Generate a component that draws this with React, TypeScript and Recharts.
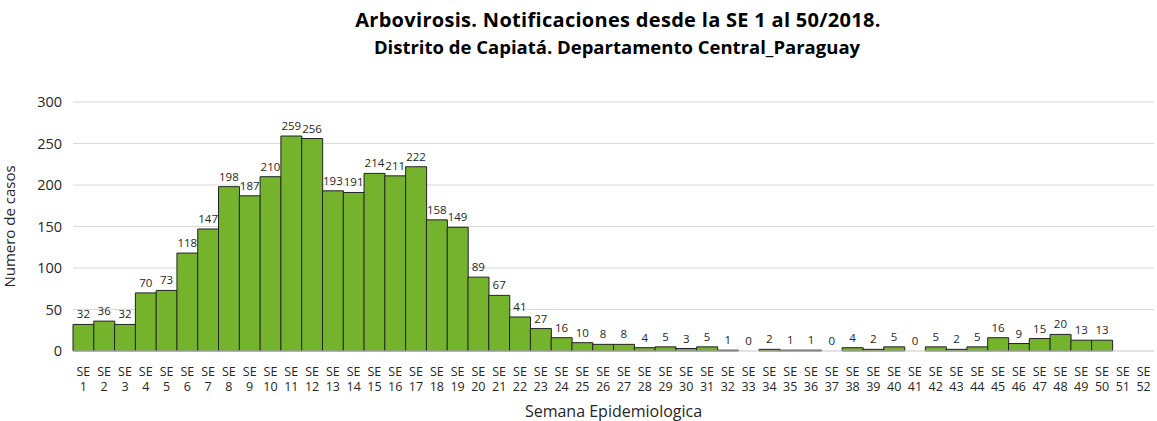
import { ComposedChart, Bar, Line, XAxis, YAxis, CartesianGrid, LabelList } from 'recharts';

const weeks = Array.from({ length: 52 }, (_, i) => i + 1);
const cases: (number | null)[] = [
  32, 36, 32, 70, 73, 118, 147, 198, 187, 210,
  259, 256, 193, 191, 214, 211, 222, 158, 149, 89,
  67, 41, 27, 16, 10, 8, 8, 4, 5, 3,
  5, 1, 0, 2, 1, 1, 0, 4, 2, 5,
  0, 5, 2, 5, 16, 9, 15, 20, 13, 13,
  null, null,
];
const yTicks = [0, 50, 100, 150, 200, 250, 300];

const data = weeks.map((w, i) => ({ week: String(w), casos: cases[i] }));

const FONT = '"Open Sans", "Noto Sans", sans-serif';
const TEXT = '#262626';

const WeekTick = (props: any) => {
  const { x, y, payload } = props;
  return (
    <text x={x} y={y} textAnchor="middle" fill={TEXT} fontSize={12.5} fontFamily={FONT}>
      <tspan x={x} dy={17}>SE</tspan>
      <tspan x={x} dy={15}>{payload.value}</tspan>
    </text>
  );
};

// labels drawn from an invisible line so zero values keep their label
const TopLabel = (props: any) => {
  const { x, y, value } = props;
  if (value === null || value === undefined || x == null || y == null) return null;
  return (
    <text x={Number(x)} y={Number(y) - 6} textAnchor="middle" fill={TEXT} fontSize={11.5} fontFamily={FONT}>
      {value}
    </text>
  );
};

export default function App() {
  return (
    <div style={{ position: 'absolute', left: 0, top: 0, width: 1157, height: 421, background: '#fff', fontFamily: FONT }}>
      <div style={{ position: 'absolute', top: 7, left: 0, width: 1236, textAlign: 'center', fontWeight: 700, fontSize: 20, lineHeight: '26px', color: '#000', letterSpacing: 0.3 }}>
        Arbovirosis. Notificaciones desde la SE 1 al 50/2018.
      </div>
      <div style={{ position: 'absolute', top: 35, left: 0, width: 1234, textAlign: 'center', fontWeight: 700, fontSize: 18.5, lineHeight: '24px', color: '#000' }}>
        Distrito de Capiatá. Departamento Central_Paraguay
      </div>
      <ComposedChart
        width={1157}
        height={421}
        data={data}
        margin={{ top: 102, right: 3, left: 8, bottom: 0 }}
        barCategoryGap={0}
      >
        <CartesianGrid vertical={false} stroke="#d9d9d9" />
        <XAxis
          dataKey="week"
          interval={0}
          height={70}
          tickLine={false}
          axisLine={{ stroke: '#d9d9d9' }}
          tick={<WeekTick />}
          label={{ value: 'Semana Epidemiologica', position: 'insideBottom', offset: 4, fontSize: 16, fill: TEXT, fontFamily: FONT }}
        />
        <YAxis
          width={65}
          domain={[0, 300]}
          ticks={yTicks}
          axisLine={false}
          tickLine={false}
          tickMargin={5}
          tick={{ fontSize: 14.5, fill: TEXT, fontFamily: FONT }}
          label={{ value: 'Numero de casos', angle: -90, position: 'insideLeft', offset: 2, fontSize: 15, fill: TEXT, fontFamily: FONT, style: { textAnchor: 'middle' } }}
        />
        <Bar dataKey="casos" fill="#76b32d" stroke="#222" strokeWidth={1} isAnimationActive={false} />
        <Line dataKey="casos" stroke="none" dot={false} activeDot={false} legendType="none" isAnimationActive={false}>
          <LabelList dataKey="casos" content={<TopLabel />} />
        </Line>
      </ComposedChart>
    </div>
  );
}
